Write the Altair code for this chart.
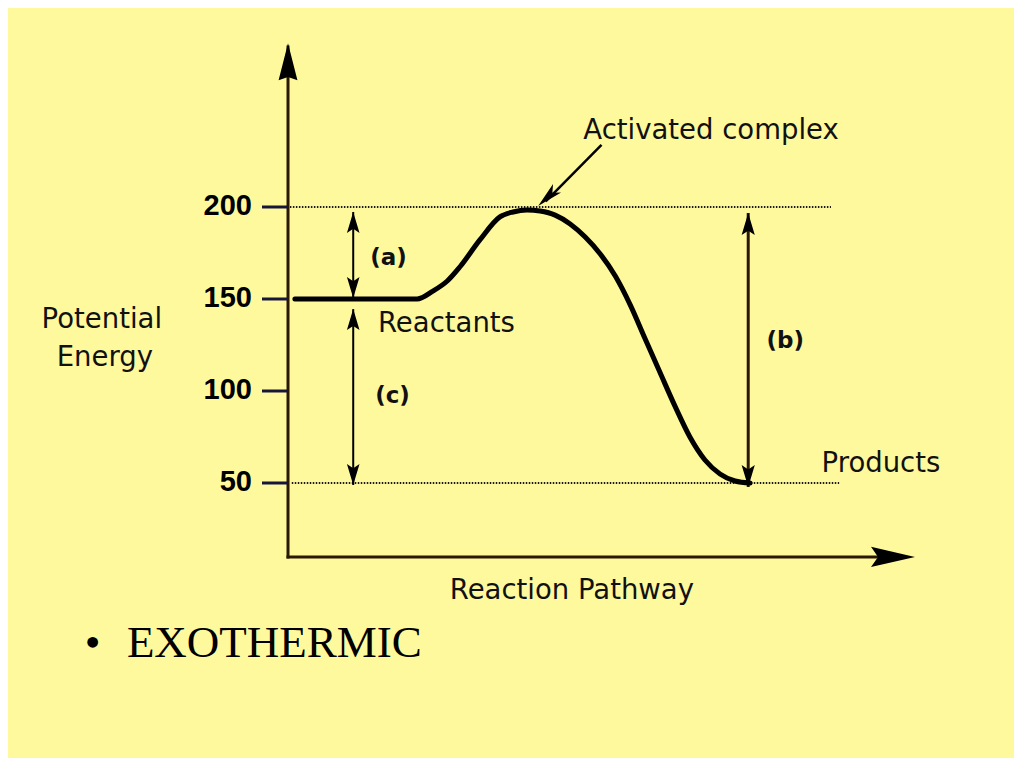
import altair as alt
import pandas as pd

# ---------------- data ----------------
# energy axis ticks
tick_values = [50, 100, 150, 200]
tick_labels = ["50", "100", "150", "200"]

# reaction curve: pathway position (0 = origin, 100 = axis end) vs potential energy
path_x = [1.1, 20.6, 23.1, 25.4, 27.4, 30.6, 33.8, 35.9, 38.1, 40.2, 42.6, 45.0, 47.4,
          49.8, 52.2, 54.6, 56.9, 59.3, 61.7, 64.1, 66.5, 68.9, 71.3, 73.7]
path_y = [150, 150, 154.3, 159.8, 167.4, 182.1, 194.6, 197.3, 198.4, 197.8, 195.6, 190.8, 183.7,
          174.5, 162.5, 146.7, 128.8, 110.3, 91.9, 75.0, 62.5, 54.9, 51.1, 50.0]

# dotted reference levels (activated complex, products)
level_y = [200, 50]
level_x_start = [0.3, 0.6]
level_x_end = [86.6, 87.9]

# axis extents
axis_y_base = 9.8
y_axis_top = 289.0
x_axis_end = 100.0

# double-headed measurement arrows (a), (c), (b)
arrow_names = ["a", "c", "b"]
arrow_x = [10.4, 10.4, 73.4]
arrow_top = [197.3, 144.5, 196.7]
arrow_bottom = [150.5, 48.9, 47.8]

# pointer to activated complex
pointer_from = (50.0, 233.7)
pointer_to = (39.9, 200.5)

# labels
plain_text = ["Activated complex", "Reactants", "Products", "Reaction Pathway", "Potential", "Energy"]
plain_x = [47.1, 14.35, 85.1, 25.8, -39.3, -36.9]
plain_y = [236.8, 132.1, 56.1, -13.0, 134.4, 113.6]

bold_text = ["(a)", "(c)", "(b)"]
bold_x = [13.1, 13.9, 76.3]
bold_y = [168.5, 93.5, 123.4]

slide_text = ["EXOTHERMIC"]
slide_x = [-25.7]
slide_y = [-44.6]
bullet_x = [-32.4]

# ---------------- scales ----------------
W, H = 1006, 750
xs = alt.Scale(domain=[-44.66, 115.79], nice=False, zero=False)
ys = alt.Scale(domain=[-99.46, 308.15], nice=False, zero=False)


def X(f="x"):
    return alt.X(f"{f}:Q", scale=xs, axis=None)


def Y(f="y"):
    return alt.Y(f"{f}:Q", scale=ys, axis=None)


AXIS_COLOR = "#2A1800"
TICK_COLOR = "#16163A"
INK = "#111111"

ARROW_SMALL = "M0,0 L0.6,2 L0,1.6 L-0.6,2 Z"
ARROW_Y = "M0,0 L0.51,2 L0,1.82 L-0.51,2 Z"
ARROW_X = "M0,0 L0.46,2 L0,1.68 L-0.46,2 Z"
ARROW_PTR = "M0,0 L0.45,2 L0,1.5 L-0.45,2 Z"

layers = []

# dotted levels
lev = pd.DataFrame({"y": level_y, "x": level_x_start, "x2": level_x_end})
layers.append(alt.Chart(lev).mark_rule(strokeDash=[1.5, 1.5], strokeWidth=2, color="#1a1a1a")
              .encode(x=X(), x2="x2:Q", y=Y()))

# axes lines
yax = pd.DataFrame({"x": [0.0], "y": [axis_y_base], "y2": [y_axis_top - 2]})
layers.append(alt.Chart(yax).mark_rule(strokeWidth=3, color=AXIS_COLOR, strokeCap="square")
              .encode(x=X(), y=Y(), y2="y2:Q"))
xax = pd.DataFrame({"x": [0.0], "x2": [x_axis_end - 2], "y": [axis_y_base]})
layers.append(alt.Chart(xax).mark_rule(strokeWidth=3, color=AXIS_COLOR, strokeCap="square")
              .encode(x=X(), x2="x2:Q", y=Y()))

# axis arrowheads
layers.append(alt.Chart(pd.DataFrame({"x": [0.0], "y": [y_axis_top]}))
              .mark_point(shape=ARROW_Y, filled=True, size=1369, color="black", strokeWidth=0, opacity=1)
              .encode(x=X(), y=Y()))
layers.append(alt.Chart(pd.DataFrame({"x": [x_axis_end], "y": [axis_y_base]}))
              .mark_point(shape=ARROW_X, filled=True, size=1936, color="black", strokeWidth=0, opacity=1)
              .encode(x=X(), y=Y(), angle=alt.value(90)))

# ticks
tk = pd.DataFrame({"y": tick_values, "label": tick_labels})
layers.append(alt.Chart(tk).mark_rule(strokeWidth=3, color=TICK_COLOR)
              .encode(x=alt.value(262 - 8), x2=alt.value(288 - 8), y=Y()))
layers.append(alt.Chart(tk).mark_text(align="right", baseline="alphabetic", dy=8, dx=0,
                                      font="Liberation Sans", fontWeight="bold", fontSize=29, color="black")
              .encode(x=alt.value(252 - 8), y=Y(), text="label:N"))

# measurement arrows
arr = pd.DataFrame({"name": arrow_names, "x": arrow_x, "top": arrow_top, "bottom": arrow_bottom})
arr_ac = arr[arr["name"] != "b"]
arr_b = arr[arr["name"] == "b"]
layers.append(alt.Chart(arr_ac).mark_rule(strokeWidth=2, color="black")
              .encode(x=X(), y=Y("top"), y2="bottom:Q"))
layers.append(alt.Chart(arr_b).mark_rule(strokeWidth=3, color=AXIS_COLOR)
              .encode(x=X(), y=Y("top"), y2="bottom:Q"))
layers.append(alt.Chart(arr_ac).mark_point(shape=ARROW_SMALL, filled=True, size=441, color="black",
                                           strokeWidth=0, opacity=1)
              .encode(x=X(), y=Y("top")))
layers.append(alt.Chart(arr_ac).mark_point(shape=ARROW_SMALL, filled=True, size=441, color="black",
                                           strokeWidth=0, opacity=1)
              .encode(x=X(), y=Y("bottom"), angle=alt.value(180)))
layers.append(alt.Chart(arr_b).mark_point(shape=ARROW_SMALL, filled=True, size=484, color="black",
                                          strokeWidth=0, opacity=1)
              .encode(x=X(), y=Y("top")))
layers.append(alt.Chart(arr_b).mark_point(shape=ARROW_SMALL, filled=True, size=484, color="black",
                                          strokeWidth=0, opacity=1)
              .encode(x=X(), y=Y("bottom"), angle=alt.value(180)))

# reaction curve
curve = pd.DataFrame({"x": path_x, "y": path_y, "i": list(range(len(path_x)))})
layers.append(alt.Chart(curve).mark_line(color="black", strokeWidth=5, interpolate="monotone",
                                         strokeCap="round", strokeJoin="round")
              .encode(x=X(), y=Y(), order="i:Q"))

# pointer to activated complex
ptr = pd.DataFrame({"x": [pointer_from[0]], "y": [pointer_from[1]],
                    "x2": [pointer_to[0] + 1.2], "y2": [pointer_to[1] + 2.5]})
layers.append(alt.Chart(ptr).mark_rule(strokeWidth=2.5, color="black")
              .encode(x=X(), y=Y(), x2="x2:Q", y2="y2:Q"))
layers.append(alt.Chart(pd.DataFrame({"x": [pointer_to[0]], "y": [pointer_to[1]]}))
              .mark_point(shape=ARROW_PTR, filled=True, size=676, color="black", strokeWidth=0, opacity=1)
              .encode(x=X(), y=Y(), angle=alt.value(226.6)))

# labels
pl = pd.DataFrame({"x": plain_x, "y": plain_y, "t": plain_text})
layers.append(alt.Chart(pl).mark_text(align="left", baseline="alphabetic", font="DejaVu Sans",
                                      fontSize=27.5, color=INK)
              .encode(x=X(), y=Y(), text="t:N"))
bl = pd.DataFrame({"x": bold_x, "y": bold_y, "t": bold_text})
layers.append(alt.Chart(bl).mark_text(align="left", baseline="alphabetic", font="DejaVu Sans",
                                      fontWeight="bold", fontSize=23, color=INK)
              .encode(x=X(), y=Y(), text="t:N"))
sl = pd.DataFrame({"x": slide_x, "y": slide_y, "t": slide_text})
layers.append(alt.Chart(sl).mark_text(align="left", baseline="alphabetic", font="Liberation Serif",
                                      fontSize=45, color="black")
              .encode(x=X(), y=Y(), text="t:N"))
bu = pd.DataFrame({"x": bullet_x, "y": slide_y, "t": ["•"]})
layers.append(alt.Chart(bu).mark_text(align="left", baseline="alphabetic", font="Liberation Serif",
                                      fontSize=45, color="black")
              .encode(x=X(), y=Y(), text="t:N"))

chart = (alt.layer(*layers)
         .properties(width=W, height=H, padding=0, autosize=alt.AutoSizeParams(type="none"),
                     background="#FFF99E")
         .configure_view(strokeWidth=0))

chart.save("out.html", embed_options={"renderer": "svg", "actions": False})
